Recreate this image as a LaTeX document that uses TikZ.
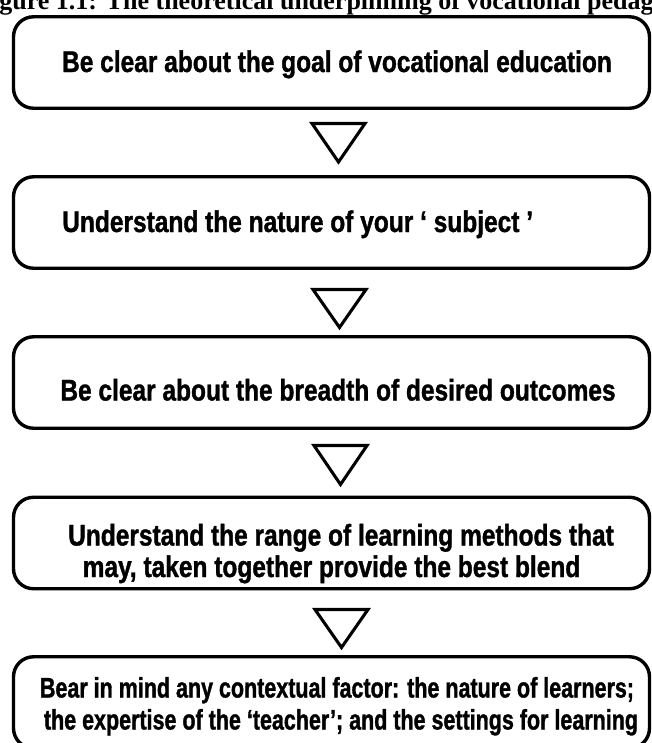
\documentclass[tikz,border=0pt]{standalone}
\usepackage{fontspec}
\setmainfont{Liberation Serif}
\newfontfamily\boxfont{Liberation Sans}[FakeStretch=0.82,FakeBold=1.2]
\newfontfamily\boxfontnarrow{Liberation Sans}[FakeStretch=0.76,FakeBold=1.2]
\newcommand\figtitlefont{\fontsize{19.5pt}{22pt}\selectfont\bfseries}
\newcommand\steptextfont{\boxfont\bfseries\fontsize{22.4pt}{24pt}\selectfont}
\newcommand\steptextfontnarrow{\boxfontnarrow\bfseries\fontsize{21.2pt}{24pt}\selectfont}
\begin{document}
\begin{tikzpicture}[x=0.75pt,y=-0.75pt,
  stepbox/.style={draw=black, line width=2.55pt, rounded corners=15pt,
    minimum width=477pt, minimum height=68.6pt, inner sep=0pt},
  steptext/.style={anchor=base, inner sep=0pt, font=\steptextfont},
  longtext/.style={steptext, font=\steptextfontnarrow},
  flowmark/.style={draw=black, line width=2.3pt, line join=miter},
  figtitle/.style={anchor=base west, inner sep=0pt, font=\figtitlefont}]
\useasboundingbox (0,0) rectangle (652,743);
\begin{scope}
\clip (0,0) rectangle (652,743);

% figure caption, running past both edges
\node[figtitle] (title) at (-24,9)
  {Figure 1.1: The theoretical underpinning of vocational pedagogy};

% the five steps
\node[stepbox] (box1) at (331.5,62.5) {};
\node[stepbox] (box2) at (331.5,222.5) {};
\node[stepbox] (box3) at (331.5,382.5) {};
\node[stepbox] (box4) at (331.5,543) {};
\node[stepbox] (box5) at (331.5,702.5) {};

\node[steptext] (t1) at (337,72) {Be clear about the goal of vocational education};
\node[steptext, anchor=base west] (t2) at (62,232) {Understand the nature of your ‘ subject ’};
\node[steptext] (t3) at (338,400.5) {Be clear about the breadth of desired outcomes};
\node[steptext] (t4a) at (341,545.5) {Understand the range of learning methods that};
\node[steptext] (t4b) at (331.5,577) {may, taken together provide the best blend};
\node[longtext] (t5a) at (337,697.5) {Bear in mind any contextual factor: the nature of learners;};
\node[longtext] (t5b) at (341,729.5) {the expertise of the ‘teacher’; and the settings for learning};

% open downward triangles between the steps
\draw[flowmark] (312,123.5) -- (365,123.5) -- (338.5,162) -- cycle;
\draw[flowmark] (313,289.5) -- (366,289.5) -- (339.5,327.5) -- cycle;
\draw[flowmark] (314,445.5) -- (367,445.5) -- (340.5,484.5) -- cycle;
\draw[flowmark] (315,609.5) -- (368,609.5) -- (341.5,647.5) -- cycle;
\end{scope}
\end{tikzpicture}
\end{document}
